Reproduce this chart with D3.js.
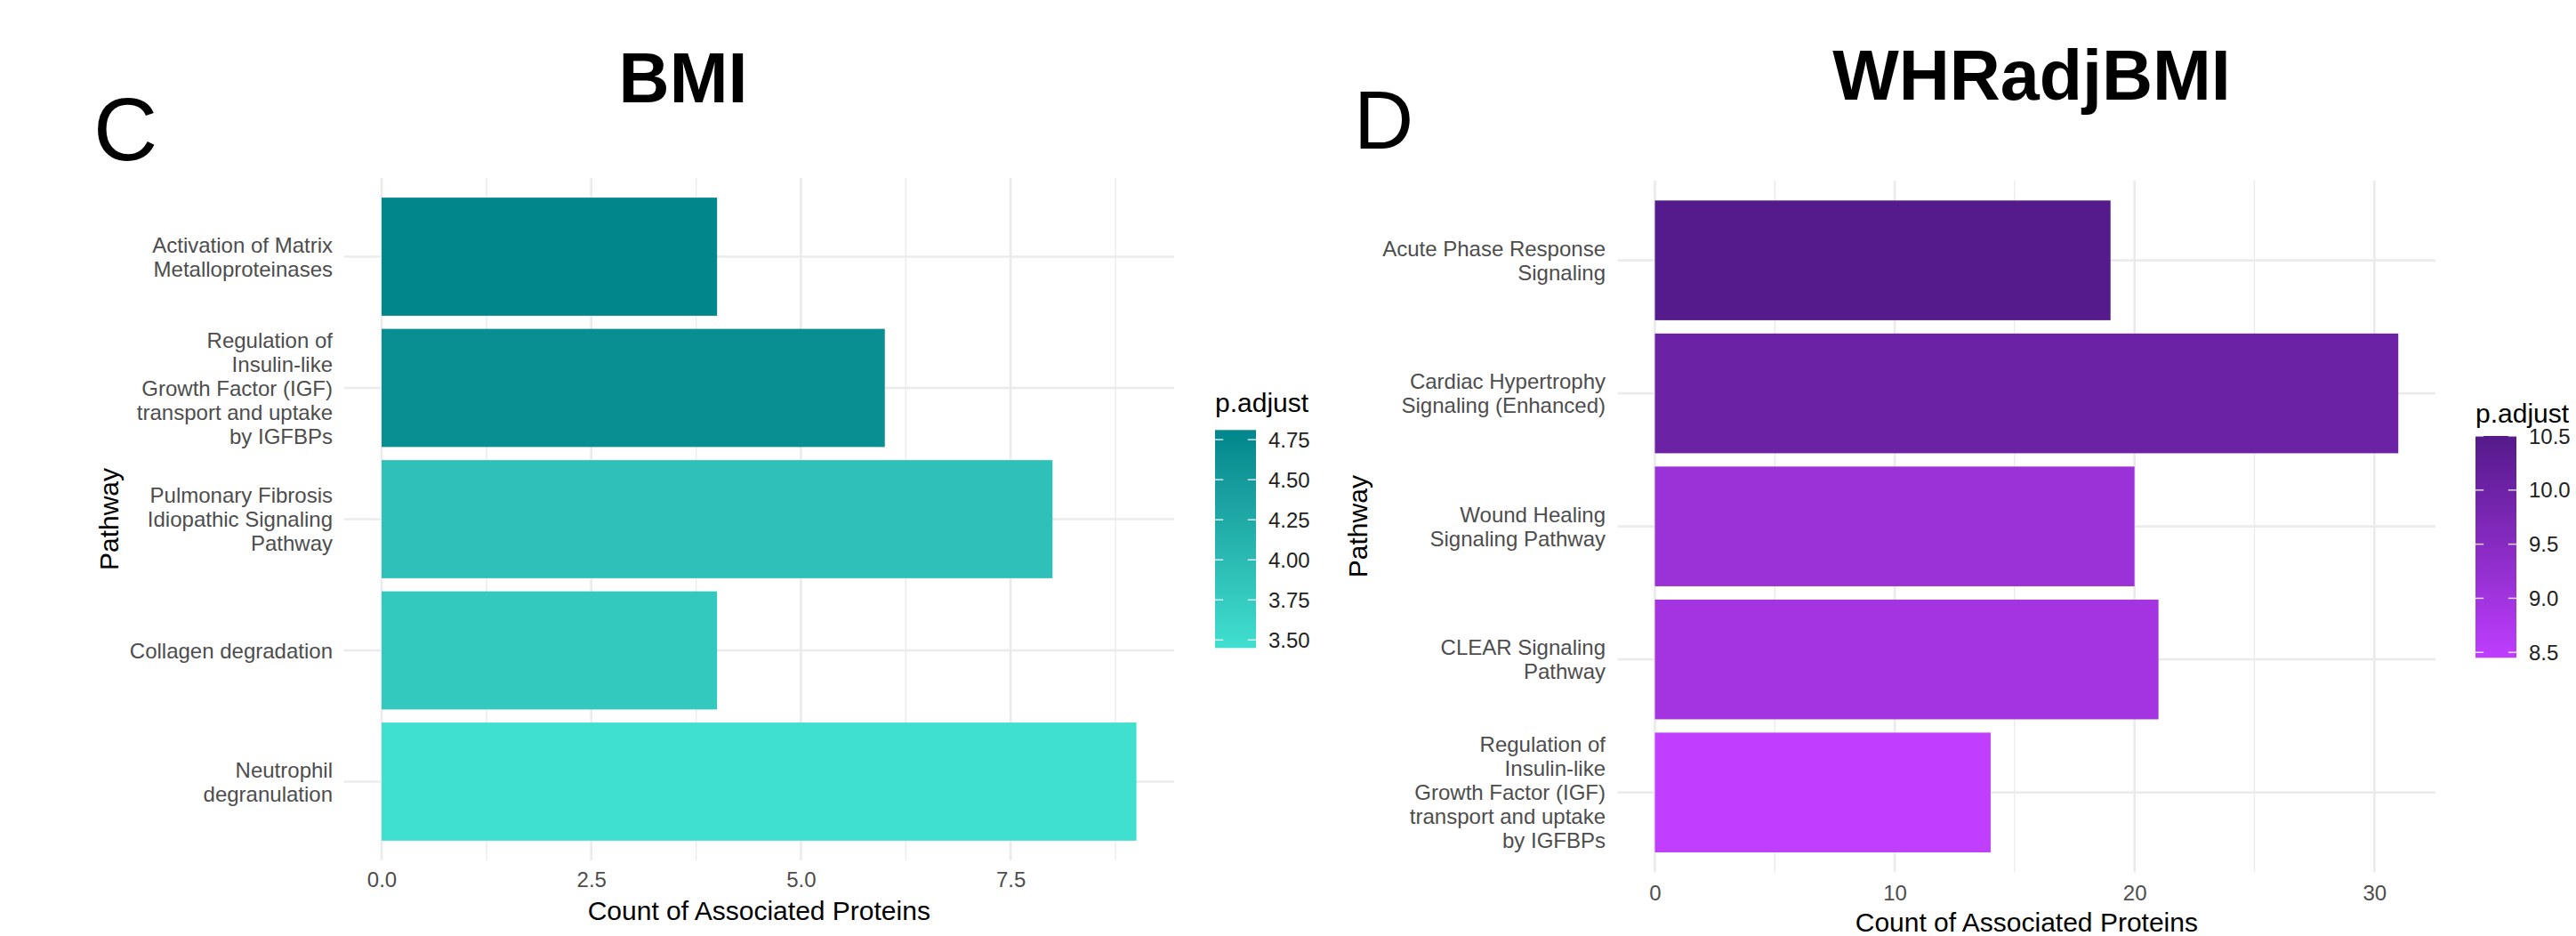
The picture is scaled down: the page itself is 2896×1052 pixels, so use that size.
<!DOCTYPE html>
<html>
<head>
<meta charset="utf-8">
<script src="https://cdn.jsdelivr.net/npm/d3@7"></script>
<style>
  html, body { margin: 0; padding: 0; background: #ffffff; }
  svg text { font-family: "Liberation Sans", Arial, Helvetica, sans-serif; }
</style>
</head>
<body>
<svg id="fig" width="2896" height="1052"></svg>
<script>
// ---- BMI enrichment (panel C), listed top to bottom ----
const bmiPathways = [
  "Activation of Matrix\nMetalloproteinases",
  "Regulation of\nInsulin-like\nGrowth Factor (IGF)\ntransport and uptake\nby IGFBPs",
  "Pulmonary Fibrosis\nIdiopathic Signaling\nPathway",
  "Collagen degradation",
  "Neutrophil\ndegranulation"
];
const bmiCounts = [4, 6, 8, 4, 9];
const bmiPadjust = [4.81, 4.68, 3.90, 3.78, 3.45];
const bmiXTicks = [0, 2.5, 5, 7.5];
const bmiLegendTicks = [3.5, 3.75, 4.0, 4.25, 4.5, 4.75];

// ---- WHRadjBMI enrichment (panel D), listed top to bottom ----
const whrPathways = [
  "Acute Phase Response\nSignaling",
  "Cardiac Hypertrophy\nSignaling (Enhanced)",
  "Wound Healing\nSignaling Pathway",
  "CLEAR Signaling\nPathway",
  "Regulation of\nInsulin-like\nGrowth Factor (IGF)\ntransport and uptake\nby IGFBPs"
];
const whrCounts = [19, 31, 20, 21, 14];
const whrPadjust = [10.5, 10.04, 9.12, 8.97, 8.45];
const whrXTicks = [0, 10, 20, 30];
const whrLegendTicks = [8.5, 9.0, 9.5, 10.0, 10.5];

const svg = d3.select("#fig");
const GRID = "#ebebeb";
const AXIS_TEXT = "#4d4d4d";
const LINE_GAP = 27;

function drawPanel(o) {
  const g = svg.append("g");

  // x scale with 5% expansion on each side, like a ggplot continuous axis
  const xmax = d3.max(o.counts);
  const pad = xmax * 0.05;
  const x = d3.scaleLinear().domain([-pad, xmax + pad]).range([o.left, o.right]);

  const y = d3.scaleBand().domain(o.pathways).range([o.top, o.bottom])
    .paddingInner(0.1).paddingOuter(0.15);

  const color = d3.scaleLinear()
    .domain(d3.extent(o.padj))
    .range([o.low, o.high])
    .interpolate(d3.interpolateLab);

  // minor grid: midpoints between the major breaks, kept inside the limits
  const step = o.xTicks[1] - o.xTicks[0];
  const minor = [];
  for (let v = o.xTicks[0] - step / 2; v <= xmax + pad; v += step) {
    if (v >= -pad) minor.push(v);
  }
  g.selectAll(".minor").data(minor).join("line")
    .attr("x1", d => x(d)).attr("x2", d => x(d))
    .attr("y1", o.top).attr("y2", o.bottom)
    .attr("stroke", GRID).attr("stroke-width", 1.4);
  g.selectAll(".majorx").data(o.xTicks).join("line")
    .attr("x1", d => x(d)).attr("x2", d => x(d))
    .attr("y1", o.top).attr("y2", o.bottom)
    .attr("stroke", GRID).attr("stroke-width", 2.7);
  g.selectAll(".majory").data(o.pathways).join("line")
    .attr("x1", o.left).attr("x2", o.right)
    .attr("y1", d => y(d) + y.bandwidth() / 2).attr("y2", d => y(d) + y.bandwidth() / 2)
    .attr("stroke", GRID).attr("stroke-width", 2.7);

  // bars
  g.selectAll(".bar").data(o.pathways).join("rect")
    .attr("x", x(0))
    .attr("y", d => y(d))
    .attr("width", (d, i) => x(o.counts[i]) - x(0))
    .attr("height", y.bandwidth())
    .attr("fill", (d, i) => color(o.padj[i]));

  // x axis labels
  const xAxis = d3.axisBottom(x).tickValues(o.xTicks).tickFormat(o.xFmt).tickSize(0).tickPadding(0);
  const ax = g.append("g").attr("transform", `translate(0,${o.bottom})`).call(xAxis);
  ax.select(".domain").remove();
  ax.selectAll("text")
    .attr("y", o.tickBase - o.bottom).attr("dy", null)
    .attr("fill", AXIS_TEXT).style("font-size", "24px")
    .style("font-family", '"Liberation Sans", Arial, Helvetica, sans-serif');

  // y category labels (multi-line, right-aligned, centred on the band)
  g.selectAll(".ylab").data(o.pathways).join("text")
    .attr("text-anchor", "end")
    .attr("fill", AXIS_TEXT)
    .style("font-size", "24px")
    .each(function (d) {
      const lines = d.split("\n");
      const c = y(d) + y.bandwidth() / 2;
      const t = d3.select(this);
      lines.forEach((ln, i) => {
        t.append("tspan")
          .attr("x", o.labelX)
          .attr("y", c + (i - (lines.length - 1) / 2) * LINE_GAP + 8.6)
          .text(ln);
      });
    });

  // axis titles
  g.append("text")
    .attr("x", (o.left + o.right) / 2).attr("y", o.xTitleBase)
    .attr("text-anchor", "middle").style("font-size", "30px").attr("fill", "#000")
    .text("Count of Associated Proteins");
  g.append("text")
    .attr("transform", `translate(${o.yTitleX},${(o.top + o.bottom) / 2}) rotate(-90)`)
    .attr("text-anchor", "middle").style("font-size", "30px").attr("fill", "#000")
    .text("Pathway");

  // plot title and panel letter
  g.append("text")
    .attr("x", o.titleX).attr("y", o.titleBase)
    .attr("text-anchor", "middle")
    .style("font-size", "79px").style("font-weight", "bold").attr("fill", "#000")
    .text(o.title);
  g.append("text")
    .attr("x", o.letterX).attr("y", o.letterBase)
    .style("font-size", o.letterSize + "px").attr("fill", "#000")
    .text(o.letter);

  // colour bar legend
  const lg = o.legend;
  const ly = d3.scaleLinear().domain(color.domain()).range([lg.bottom, lg.top]);
  const gid = "grad" + o.letter;
  const grad = svg.append("defs").append("linearGradient")
    .attr("id", gid).attr("x1", 0).attr("y1", 1).attr("x2", 0).attr("y2", 0);
  d3.range(0, 1.0001, 0.05).forEach(t => {
    const v = color.domain()[0] + t * (color.domain()[1] - color.domain()[0]);
    grad.append("stop").attr("offset", t).attr("stop-color", color(v));
  });
  g.append("text")
    .attr("x", lg.x).attr("y", lg.titleBase)
    .style("font-size", "30px").attr("fill", "#000").text("p.adjust");
  g.append("rect")
    .attr("x", lg.x).attr("y", lg.top)
    .attr("width", lg.w).attr("height", lg.bottom - lg.top)
    .attr("fill", `url(#${gid})`);
  const tk = o.legendTicks.filter(v => v >= color.domain()[0] - 1e-9 && v <= color.domain()[1] + 1e-9);
  g.selectAll(".ltl").data(tk).join("line")
    .attr("x1", lg.x).attr("x2", lg.x + lg.w / 5)
    .attr("y1", d => ly(d)).attr("y2", d => ly(d))
    .attr("stroke", "#fff").attr("stroke-opacity", 0.8).attr("stroke-width", 1.5);
  g.selectAll(".ltr").data(tk).join("line")
    .attr("x1", lg.x + lg.w * 4 / 5).attr("x2", lg.x + lg.w)
    .attr("y1", d => ly(d)).attr("y2", d => ly(d))
    .attr("stroke", "#fff").attr("stroke-opacity", 0.8).attr("stroke-width", 1.5);
  g.selectAll(".ltxt").data(tk).join("text")
    .attr("x", lg.x + lg.w + 14).attr("y", d => ly(d) + 8.6)
    .style("font-size", "24px").attr("fill", "#222")
    .text(o.legendFmt);
}

drawPanel({
  pathways: bmiPathways, counts: bmiCounts, padj: bmiPadjust,
  xTicks: bmiXTicks, xFmt: d3.format(".1f"),
  low: "#40E0D0", high: "#00868B",
  left: 386.6, right: 1320, top: 200, bottom: 967,
  labelX: 374, tickBase: 997, xTitleBase: 1034, yTitleX: 133,
  title: "BMI", titleX: 768, titleBase: 115,
  letter: "C", letterX: 105, letterBase: 180, letterSize: 100,
  legend: { x: 1366, w: 46, top: 483.3, bottom: 728.3, titleBase: 463 },
  legendTicks: bmiLegendTicks, legendFmt: d3.format(".2f")
});

drawPanel({
  pathways: whrPathways, counts: whrCounts, padj: whrPadjust,
  xTicks: whrXTicks, xFmt: d3.format("d"),
  low: "#BF3EFF", high: "#551A8B",
  left: 1818.7, right: 2738, top: 202.9, bottom: 980.4,
  labelX: 1805, tickBase: 1012, xTitleBase: 1047, yTitleX: 1537,
  title: "WHRadjBMI", titleX: 2284, titleBase: 112,
  letter: "D", letterX: 1522, letterBase: 167, letterSize: 93,
  legend: { x: 2783, w: 46, top: 490, bottom: 739.3, titleBase: 475 },
  legendTicks: whrLegendTicks, legendFmt: d3.format(".1f")
});
</script>
</body>
</html>
